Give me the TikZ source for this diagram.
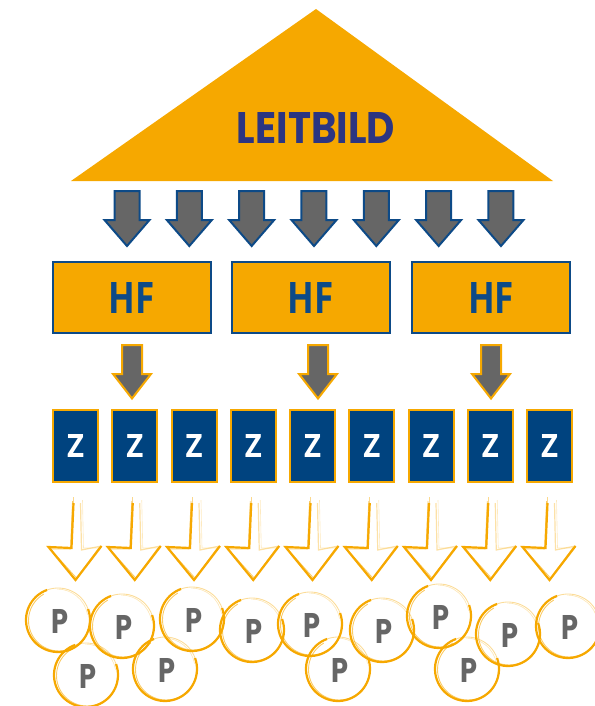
\documentclass[tikz,border=0pt]{standalone}
\usepackage{fontspec}
\usepackage{graphicx}
\setmainfont{Open Sans}
\newfontfamily\popfont{Poppins}
\usetikzlibrary{calc}
\definecolor{orng}{HTML}{F6A800}
\definecolor{navy}{HTML}{0D4A87}
\definecolor{zblue}{HTML}{00437F}
\definecolor{indig}{HTML}{2C3581}
\definecolor{gry}{HTML}{666666}
\tikzset{
  hfbox/.style={draw=navy, line width=2pt, fill=orng, minimum width=158pt, minimum height=71pt, inner sep=0pt, text=navy},
  zbox/.style={draw=orng, line width=2pt, fill=zblue, minimum width=45pt, minimum height=72pt, inner sep=0pt, text=white},
  ptext/.style={inner sep=0pt, text=gry},
  toparrow/.style={fill=gry, draw=navy, line width=2pt},
  midarrow/.style={fill=gry, draw=orng, line width=2pt},
  pics/blockarrow/.style n args={4}{code={
    \path[pic actions] (-#1,0) -- (#1,0) -- (#1,#3) -- (#2,#3) -- (0,#4) -- (-#2,#3) -- (-#1,#3) -- cycle;
  }},
  pics/sketcharrow/.style={code={
    \draw[orng, line width=2.2pt, line join=miter] (-2,6) -- (-4,51) -- (-27,50) -- (0,83) -- (26,49);
    \draw[orng, line width=1pt, opacity=.45] (-2,0) -- (-2,8);
    \draw[orng, line width=0.8pt, opacity=.6] (-3,4) -- (-5,52) -- (-25,52) -- (1,81) -- (24,50);
    \draw[orng, line width=1.2pt, opacity=.35] (26,49) -- (6,53) -- (5,6);
    \draw[orng, line width=0.6pt, opacity=.25] (24,51) -- (8,51) -- (7,3);
  }},
}
\newcommand\pcirc[3]{%
  \coordinate (#1c) at (#2,#3);
  \node[ptext] (#1) at ($(#1c)+(2,1)$) {\resizebox{17pt}{24pt}{\popfont\bfseries P}};
  \draw[orng, line width=2.2pt] ([shift={(340:32)}]#1c) arc[start angle=340, delta angle=270, radius=32];
  \draw[orng, line width=0.9pt, opacity=.4] ([shift={(250:32)}]#1c) arc[start angle=250, delta angle=90, radius=32];
  \draw[orng, line width=0.9pt, opacity=.6] ([shift={(0:30.5)}]$(#1c)+(1,0.5)$) arc[start angle=0, delta angle=240, radius=30.5];
  \draw[orng, line width=0.6pt, opacity=.3] ([shift={(270:31)}]$(#1c)+(-1,0)$) arc[start angle=270, delta angle=80, radius=31];
}
\begin{document}
\begin{tikzpicture}[x=1pt,y=-1pt]
\useasboundingbox (0,0) rectangle (594,706);
% Leitbild triangle
\fill[orng] (316,9) -- (553,181) -- (71,181) -- cycle;
\node[inner sep=0pt, text=indig] (leitbild) at (316,127.5) {\resizebox{158pt}{31pt}{\popfont\bfseries LEITBILD}};
% top arrows
\foreach \i in {0,...,6} {
  \pic[toparrow] at ({127+62.33*\i},191) {blockarrow={12.5}{22.5}{29}{55}};
}
% HF boxes
\node[hfbox] (hf1) at (132,297.5) {\resizebox{46pt}{31pt}{\bfseries HF}};
\node[hfbox] (hf2) at (311,297.5) {\resizebox{46pt}{31pt}{\bfseries HF}};
\node[hfbox] (hf3) at (491,297.5) {\resizebox{46pt}{31pt}{\bfseries HF}};
% middle arrows
\foreach \x in {132,318,491} {
  \pic[midarrow] at (\x,345) {blockarrow={10}{19}{29}{53.5}};
}
% Z boxes
\foreach \i in {1,...,9} {
  \node[zbox] (z\i) at ({75.5+59.25*(\i-1)},446) {\resizebox{17pt}{23pt}{\bfseries Z}};
}
% sketch arrows
\foreach \i in {1,...,9} {
  \pic at ({75.5+59.25*(\i-1)},497) {sketcharrow};
}
% P circles
\pcirc{p1}{58}{620}
\pcirc{p2}{86}{675}
\pcirc{p3}{122}{626}
\pcirc{p4}{165}{669}
\pcirc{p5}{192}{619}
\pcirc{p6}{252}{630}
\pcirc{p7}{310}{624}
\pcirc{p8}{338}{669}
\pcirc{p9}{382}{630}
\pcirc{p10}{439}{616}
\pcirc{p11}{467}{669}
\pcirc{p12}{508}{634}
\pcirc{p13}{568}{626}
\end{tikzpicture}
\end{document}
